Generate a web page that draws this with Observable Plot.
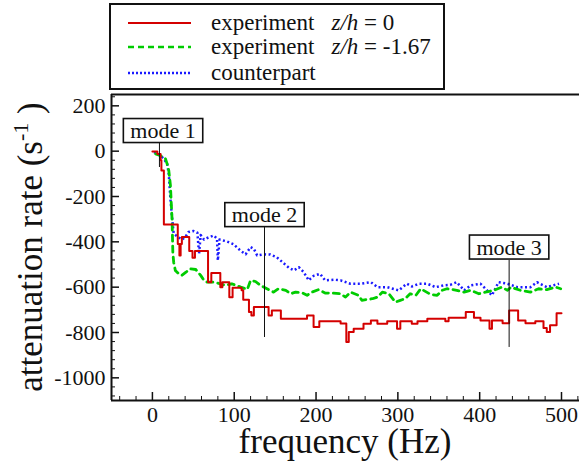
<!DOCTYPE html>
<html><head><meta charset="utf-8">
<script src="https://cdn.jsdelivr.net/npm/d3@7"></script>
<script src="https://cdn.jsdelivr.net/npm/@observablehq/plot@0.6"></script>
<style>
body{margin:0;background:#fff;font-family:"Liberation Serif","Times New Roman",Times,"DejaVu Serif",serif;}
#wrap{position:relative;width:579px;height:468px;overflow:hidden;}
#legend{position:relative;height:92px;}
#lbox{position:absolute;left:109px;top:3px;width:336px;height:87px;border:2px solid #111;box-sizing:border-box;background:#fff;}
.row{position:absolute;left:0;height:26px;line-height:26px;font-size:23px;color:#111;white-space:nowrap;}
.row svg{position:absolute;left:17px;top:10px;}
.row span.t{position:absolute;left:100px;top:0;}
.row i{font-style:italic;}
</style></head><body>
<div id="wrap">
  <div id="legend"><div id="lbox"></div></div>
  <div id="chart"></div>
</div>
<script>
// ---- data ----
const seriesNames = ["experiment", "experiment", "counterpart"];
const seriesTags = ["z/h = 0", "z/h = -1.67", ""];
const seriesColors = ["#d40000", "#00cc00", "#1a1aff"];

// experiment z/h = 0 (stepwise): [frequency, attenuation rate]
const experiment0 = [[0,-2],[6,-12],[10,-40],[11,-85],[14,-323],[31,-410],[33,-460],[34.5,-410],[36,-379],[45,-440],[49,-470],[52,-440],[68,-578],[72,-538],[83,-600],[85.5,-578],[94,-644],[98,-603],[109,-614],[111,-655],[118,-710],[121,-725],[124,-688],[142,-725],[146,-703],[157,-739],[189,-725],[197,-776],[204,-750],[230,-760],[237,-842],[240,-798],[246,-783],[258,-761],[267,-747],[275,-761],[287,-750],[299,-783],[303,-750],[317,-761],[324,-750],[336,-739],[350,-739],[358,-750],[362,-735],[383,-710],[393,-735],[401,-747],[412,-783],[415,-747],[428,-759],[436,-703],[447,-747],[456,-759],[468,-750],[478,-780],[482,-798],[486,-768],[494,-715],[500,-715]];

// experiment z/h = -1.67
const experiment167 = [[4,-12],[10,-20],[16,-34],[18,-56],[20,-85],[22,-150],[24,-300],[25,-450],[26,-490],[28,-526],[32,-540],[36,-548],[41,-534],[46,-519],[53,-522],[59,-548],[63,-570],[67,-578],[75,-578],[83,-585],[89,-592],[97,-585],[108,-600],[116,-610],[120,-570],[126,-575],[132,-592],[140,-607],[148,-622],[154,-607],[163,-614],[169,-629],[175,-622],[183,-625],[189,-636],[195,-622],[203,-611],[211,-626],[220,-626],[230,-629],[236,-644],[242,-622],[252,-636],[256,-658],[269,-651],[275,-644],[281,-622],[289,-629],[297,-666],[303,-658],[309,-651],[315,-629],[322,-636],[328,-607],[340,-632],[348,-636],[354,-614],[360,-607],[372,-614],[381,-622],[389,-614],[399,-629],[407,-622],[417,-614],[427,-600],[434,-614],[438,-600],[450,-614],[462,-622],[472,-607],[482,-611],[493,-600],[499,-607]];

// counterpart
const counterpart = [[2,-4],[10,-19],[14,-34],[18,-56],[20,-100],[22,-210],[24,-291],[26,-364],[30,-375],[36,-390],[40,-380],[44,-357],[50,-352],[55,-360],[57,-453],[59,-370],[63,-390],[67,-383],[75,-372],[79,-386],[80,-482],[82,-390],[91,-398],[99,-410],[108,-440],[114,-455],[120,-423],[124,-431],[128,-460],[136,-455],[144,-456],[152,-468],[159,-490],[167,-515],[173,-526],[179,-512],[185,-534],[191,-570],[197,-550],[205,-541],[211,-570],[222,-567],[230,-570],[242,-585],[254,-585],[267,-578],[275,-600],[287,-600],[301,-614],[311,-585],[317,-597],[326,-585],[336,-585],[346,-600],[356,-592],[364,-590],[372,-578],[381,-614],[389,-592],[401,-585],[415,-636],[423,-578],[434,-585],[446,-600],[462,-600],[470,-578],[482,-600],[497,-585]];

// mode annotations
const modeNames = ["mode 1", "mode 2", "mode 3"];
const modeFreq = [8.6, 137, 436];
const modeLabelFreq = [13, 137, 436];
const modeLabelValue = [89, -282, -425];
const modeLineTop = [34, -337, -482];
const modeLineBottom = [-72, -822, -866];

// axes
const xDomain = [-50, 522];
const yDomain = [-1100, 250];
const xMajor = [0, 100, 200, 300, 400, 500];
const xMinor = [-40, -20, 20, 40, 60, 80, 120, 140, 160, 180, 220, 240, 260, 280, 320, 340, 360, 380, 420, 440, 460, 480, 520];
const yMajor = [200, 0, -200, -400, -600, -800, -1000];
const yMinor = [240, 160, 120, 80, 40, -40, -80, -120, -160, -240, -280, -320, -360, -440, -480, -520, -560, -640, -680, -720, -760, -840, -880, -920, -960, -1040, -1080];

// ---- layout ----
const W = 579, H = 376, mL = 111, mR = 0, mT = 2, mB = 68;
const kx = (W - mL - mR) / (xDomain[1] - xDomain[0]);
const ky = (H - mT - mB) / (yDomain[1] - yDomain[0]);
const FONT = "'Liberation Serif', 'Times New Roman', Times, 'DejaVu Serif', serif";

const toObj = (arr) => arr.map(([f, v]) => ({f, v}));
const modes = modeNames.map((name, i) => ({name, f: modeFreq[i], lf: modeLabelFreq[i], lv: modeLabelValue[i], top: modeLineTop[i], bottom: modeLineBottom[i]}));

const plot = Plot.plot({
  width: W, height: H,
  marginLeft: mL, marginRight: mR, marginTop: mT, marginBottom: mB,
  style: {fontFamily: FONT, background: "#fff", overflow: "visible"},
  x: {domain: xDomain, axis: null},
  y: {domain: yDomain, axis: null},
  marks: [
    // data lines
    Plot.line(toObj(counterpart), {x: "f", y: "v", stroke: seriesColors[2], strokeWidth: 2.5, strokeDasharray: "2,2.5", strokeLinecap: "butt"}),
    Plot.line(toObj(experiment167), {x: "f", y: "v", stroke: seriesColors[1], strokeWidth: 2.8, strokeDasharray: "6,5"}),
    Plot.line(toObj(experiment0), {x: "f", y: "v", stroke: seriesColors[0], strokeWidth: 2, curve: "step-after"}),
    // mode lines
    Plot.ruleX(modes, {x: "f", y1: "bottom", y2: "top", stroke: "#111", strokeWidth: 1}),
    Plot.text(modes, {x: "lf", y: "lv", text: "name", fontSize: 22, fill: "#111", lineAnchor: "middle", fontFamily: FONT}),
    // ticks (inward)
    Plot.ruleX(xMajor, {x: d => d, y1: yDomain[0], y2: yDomain[0] + 8 / ky, stroke: "#111", strokeWidth: 1.5}),
    Plot.ruleX(xMinor, {x: d => d, y1: yDomain[0], y2: yDomain[0] + 4 / ky, stroke: "#111", strokeWidth: 1}),
    Plot.ruleY(yMajor, {y: d => d, x1: xDomain[0], x2: xDomain[0] + 8 / kx, stroke: "#111", strokeWidth: 1.5}),
    Plot.ruleY(yMinor, {y: d => d, x1: xDomain[0], x2: xDomain[0] + 4 / kx, stroke: "#111", strokeWidth: 1}),
    // frame (left, bottom, top)
    Plot.ruleX([xDomain[0]], {stroke: "#111", strokeWidth: 2}),
    Plot.ruleY([yDomain[0], yDomain[1]], {stroke: "#111", strokeWidth: 2}),
    // tick labels
    Plot.text(xMajor, {x: d => d, y: yDomain[0], text: d => String(d), dy: 6, lineAnchor: "top", fontSize: 22, fill: "#111", fontFamily: FONT}),
    Plot.text(yMajor, {x: xDomain[0], y: d => d, text: d => String(d), dx: -6, textAnchor: "end", lineAnchor: "middle", fontSize: 22, fill: "#111", fontFamily: FONT})
  ]
});

document.getElementById("chart").appendChild(plot);
const svg = d3.select(plot);

// boxes around mode labels
svg.selectAll("text").filter(function () { return /^mode/.test(this.textContent); }).each(function () {
  const b = this.getBBox();
  const r = document.createElementNS("http://www.w3.org/2000/svg", "rect");
  r.setAttribute("x", b.x - 7);
  r.setAttribute("y", b.y + 0.5);
  r.setAttribute("width", b.width + 14);
  r.setAttribute("height", b.height - 1);
  r.setAttribute("fill", "#fff");
  r.setAttribute("stroke", "#111");
  r.setAttribute("stroke-width", 1.6);
  const t = this.getAttribute("transform");
  if (t) r.setAttribute("transform", t);
  this.parentNode.insertBefore(r, this);
});

// axis titles
svg.append("text")
  .attr("x", mL + (W - mL - mR) / 2).attr("y", 361)
  .attr("text-anchor", "middle").attr("font-size", 35).attr("font-family", FONT).attr("fill", "#111")
  .text("frequency (Hz)");
const yt = svg.append("text")
  .attr("transform", `translate(42,${mT + (H - mT - mB) / 2}) rotate(-90)`)
  .attr("text-anchor", "middle").attr("font-size", 35).attr("font-family", FONT).attr("fill", "#111");
yt.append("tspan").text("attenuation rate (s");
yt.append("tspan").attr("dy", -14).attr("font-size", 22).text("-1");
yt.append("tspan").attr("dy", 14).text(" )");

// legend
const lbox = document.getElementById("lbox");
const dashes = [null, "6,4", "2,2"];
const rowTops = [5, 29, 55];
seriesNames.forEach((name, i) => {
  const row = document.createElement("div");
  row.className = "row";
  row.style.top = rowTops[i] + "px";
  row.style.width = "320px";
  const sw = d3.create("svg").attr("width", 63).attr("height", 6);
  sw.append("line").attr("x1", 0).attr("x2", 63).attr("y1", 3).attr("y2", 3)
    .attr("stroke", seriesColors[i]).attr("stroke-width", i === 0 ? 2 : 2.5)
    .attr("stroke-dasharray", dashes[i]);
  row.appendChild(sw.node());
  const t = document.createElement("span");
  t.className = "t";
  t.textContent = name;
  if (seriesTags[i]) {
    const tag = seriesTags[i];
    const it = document.createElement("i");
    it.textContent = "z/h";
    const sp = document.createElement("span");
    sp.style.marginLeft = "17px";
    sp.appendChild(it);
    sp.appendChild(document.createTextNode(tag.slice(3)));
    t.appendChild(sp);
  }
  row.appendChild(t);
  lbox.appendChild(row);
});
</script>
</body></html>
